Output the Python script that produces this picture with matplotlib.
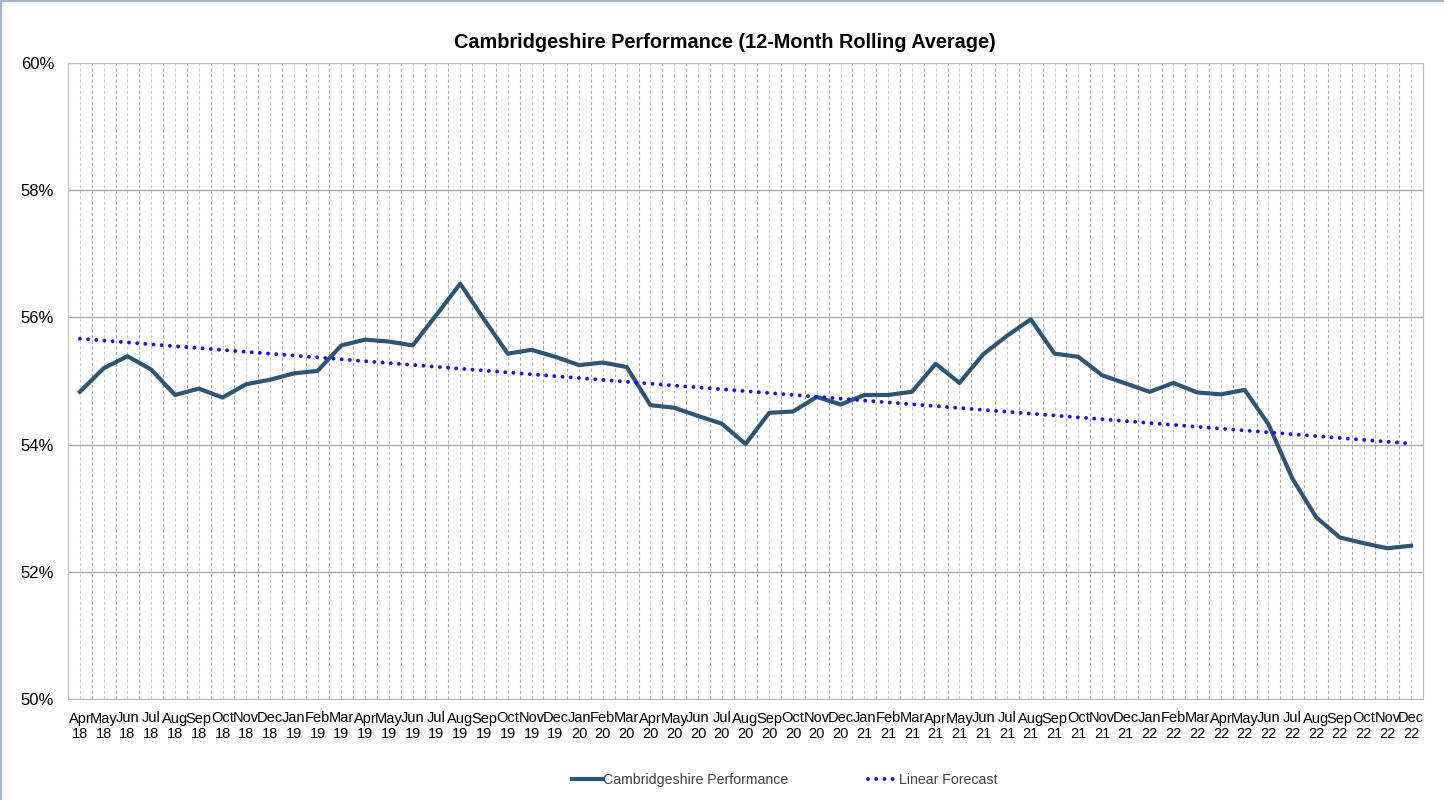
import numpy as np
import matplotlib
matplotlib.use('Agg')
import matplotlib.pyplot as plt
from matplotlib.lines import Line2D
from matplotlib.ticker import FuncFormatter

plt.rcParams['font.family'] = ['Liberation Sans', 'DejaVu Sans']

months = ['Apr', 'May', 'Jun', 'Jul', 'Aug', 'Sep', 'Oct', 'Nov', 'Dec', 'Jan', 'Feb', 'Mar']
years = ['18'] * 9 + ['19'] * 12 + ['20'] * 12 + ['21'] * 12 + ['22'] * 12
month_labels = (months * 5)[:57]

# 12-month rolling average, %
performance = [
    54.83, 55.20, 55.39, 55.18, 54.78, 54.88, 54.74, 54.95, 55.02,   # Apr-Dec 18
    55.12, 55.16, 55.56, 55.65, 55.62, 55.56, 56.04, 56.53, 55.97,   # Jan-Sep 19
    55.43, 55.49, 55.38,                                             # Oct-Dec 19
    55.25, 55.29, 55.22, 54.62, 54.58, 54.45, 54.33, 54.01, 54.50,   # Jan-Sep 20
    54.52, 54.75, 54.63,                                             # Oct-Dec 20
    54.78, 54.78, 54.83, 55.27, 54.97, 55.42, 55.71, 55.97, 55.43,   # Jan-Sep 21
    55.38, 55.09, 54.96,                                             # Oct-Dec 21
    54.83, 54.97, 54.82, 54.79, 54.86, 54.32, 53.47, 52.86, 52.54,   # Jan-Sep 22
    52.45, 52.37, 52.41,                                             # Oct-Dec 22
]

labels = [f'{m}\n{y}' for m, y in zip(month_labels, years)]
x = np.arange(len(performance))

# linear trendline, as Excel's "Linear Forecast"
slope, intercept = np.polyfit(x, performance, 1)
trend = slope * x + intercept

fig = plt.figure(figsize=(14.44, 8), dpi=100)
ax = fig.add_axes([68 / 1444, 1 - 699 / 800, (1423 - 68) / 1444, (699 - 63) / 800])

ax.plot(x, performance, color='#2f5573', lw=3, solid_joinstyle='round',
        label='Cambridgeshire Performance', zorder=3)
ax.plot(x, trend, color='#1515e6', lw=2.8, linestyle=(0, (0.01, 2.1)),
        dash_capstyle='round', label='Linear Forecast', zorder=3)

ax.set_xlim(-0.5, len(x) - 0.5)
ax.set_ylim(50, 60)
ax.set_yticks(np.arange(50, 61, 2))
ax.yaxis.set_major_formatter(FuncFormatter(lambda v, p: f'{v:.0f}%'))
ax.set_xticks(x)
ax.set_xticklabels(labels, linespacing=1.15)
ax.set_xticks(x[:-1] + 0.5, minor=True)

ax.tick_params(axis='y', length=0, pad=10, labelsize=12)
ax.tick_params(axis='x', which='both', length=0, pad=9, labelsize=10.5)

ax.grid(axis='y', color='#a6a6a6', lw=0.9)
ax.grid(axis='x', which='major', color='#cccccc', lw=0.8, linestyle=(0, (3, 2)))
ax.grid(axis='x', which='minor', color='#acacac', lw=0.8, linestyle=(0, (3, 2)))
ax.set_axisbelow(True)
for s in ax.spines.values():
    s.set_color('#bdbdbd')
    s.set_linewidth(0.8)

fig.text(0.502, 1 - 42 / 800, 'Cambridgeshire Performance (12-Month Rolling Average)',
         ha='center', va='center', fontsize=14.3, fontweight='bold')

leg = fig.legend(loc='center', bbox_to_anchor=(785 / 1444, 1 - 780 / 800), ncol=2,
                 frameon=False, fontsize=10.2, handlelength=2.1, handletextpad=0.1,
                 columnspacing=5.6)
for t in leg.get_texts():
    t.set_color('#404040')

# chart area border (top and left edges)
fig.add_artist(Line2D([0, 0], [0, 1], transform=fig.transFigure, color='#a3b5d6', lw=3))
fig.add_artist(Line2D([0, 1], [1, 1], transform=fig.transFigure, color='#a3b5d6', lw=3))

fig.savefig('out.png', dpi=100)
